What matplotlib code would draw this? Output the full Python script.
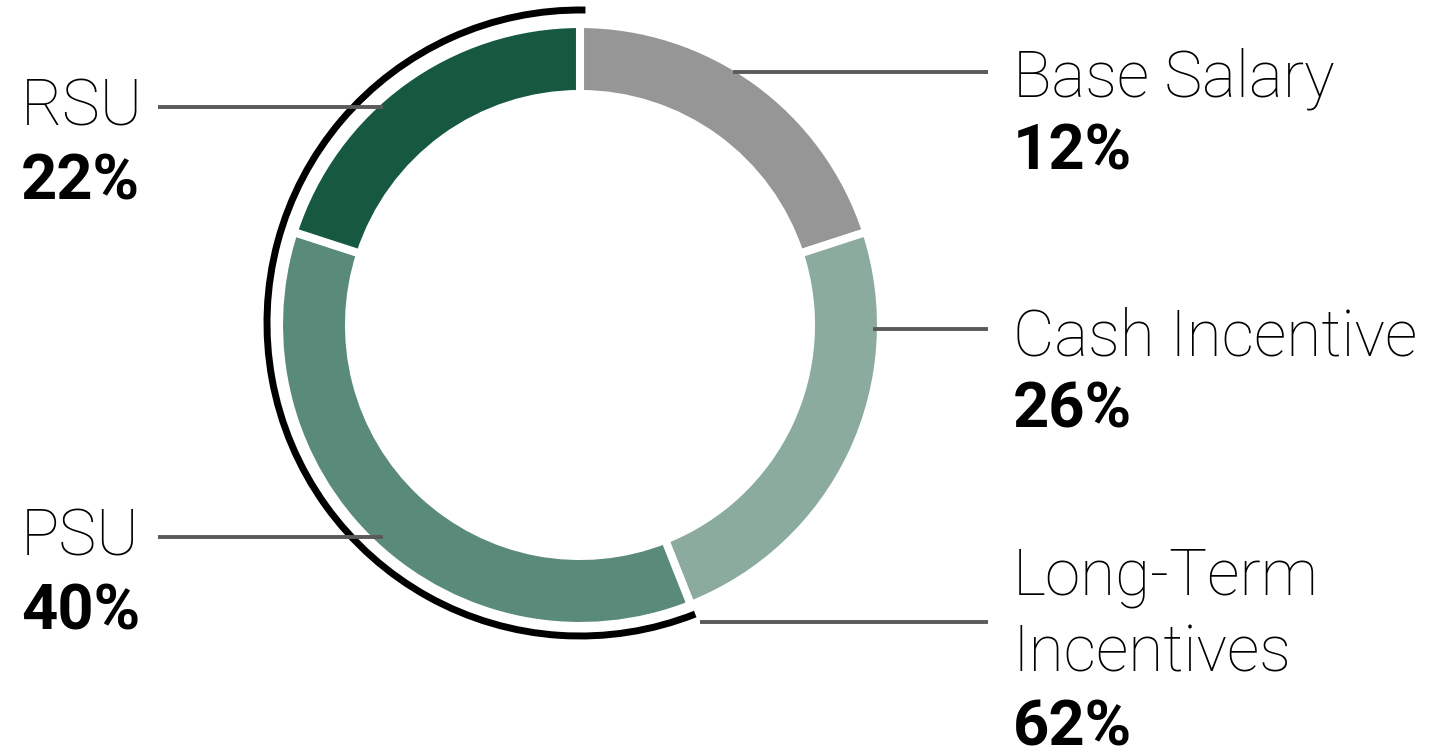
import matplotlib.pyplot as plt
from matplotlib.patches import Arc

# segment names and the percentages printed next to them
names = ["Base Salary", "Cash Incentive", "PSU", "RSU"]
pct_labels = [12, 26, 40, 22]
# arc shares as drawn in the ring
drawn_shares = [20, 24, 36, 20]
colors = ["#969696", "#8aab9e", "#5a8a79", "#165940"]

group_name = "Long-Term\nIncentives"
group_pct = 62
group_members = ["PSU", "RSU"]

W, H = 1433, 756
CX, CY = 580, 325


def Y(y):
    # pixel row -> data y
    return H - y


fig = plt.figure(figsize=(W / 100, H / 100), dpi=100)
ax = fig.add_axes([0, 0, 1, 1])

ax.pie(drawn_shares, colors=colors, startangle=90, counterclock=False,
       radius=301, center=(CX, Y(CY)),
       wedgeprops=dict(width=70, edgecolor="white", linewidth=5.8))

# outer bracket arc around the long-term group
total = float(sum(drawn_shares))
first = names.index(group_members[0])
cum_before = sum(drawn_shares[:first]) / total
theta_end = 360 + 90 - 360 * cum_before
arc = Arc((CX, Y(CY - 2)), 2 * 313, 2 * 313, theta1=89, theta2=theta_end,
          color="black", lw=5, capstyle="butt", zorder=3)
ax.add_patch(arc)

line_col = "#5a5a5a"
lfont = dict(family="Roboto", fontweight="light", fontsize=46, color="black")
bfont = dict(family="Roboto", fontweight="bold", fontsize=45.5, color="black")

# right side labels: (x0, x1, line_y, name baseline, pct baseline)
right = {
    "Base Salary": (733, 988, 72, 97, 170),
    "Cash Incentive": (873, 988, 329, 355, 428),
}
for nm, (x0, x1, ly, nb, pb) in right.items():
    ax.plot([x0, x1], [Y(ly), Y(ly)], color=line_col, lw=2.8, zorder=5,
            solid_capstyle="butt")
    ax.text(1013, Y(nb), nm, va="baseline", ha="left", **lfont)
    ax.text(1013, Y(pb), f"{pct_labels[names.index(nm)]}%", va="baseline",
            ha="left", **bfont)

left = {
    "RSU": (158, 383, 107, 125, 200),
    "PSU": (158, 383, 537, 555, 630),
}
for nm, (x0, x1, ly, nb, pb) in left.items():
    ax.plot([x0, x1], [Y(ly), Y(ly)], color=line_col, lw=2.8, zorder=5,
            solid_capstyle="butt")
    ax.text(21, Y(nb), nm, va="baseline", ha="left", **lfont)
    ax.text(21, Y(pb), f"{pct_labels[names.index(nm)]}%", va="baseline",
            ha="left", **bfont)

# long-term group label
ax.plot([700, 988], [Y(622), Y(622)], color=line_col, lw=2.8, zorder=5,
        solid_capstyle="butt")
ax.text(1013, Y(595), group_name.split("\n")[0], va="baseline", ha="left", **lfont)
ax.text(1013, Y(672), group_name.split("\n")[1], va="baseline", ha="left", **lfont)
ax.text(1013, Y(745), f"{group_pct}%", va="baseline", ha="left", **bfont)

ax.set_xlim(0, W)
ax.set_ylim(0, H)
ax.set_aspect("equal")
ax.axis("off")

fig.savefig("out.png", dpi=100, facecolor="white")
